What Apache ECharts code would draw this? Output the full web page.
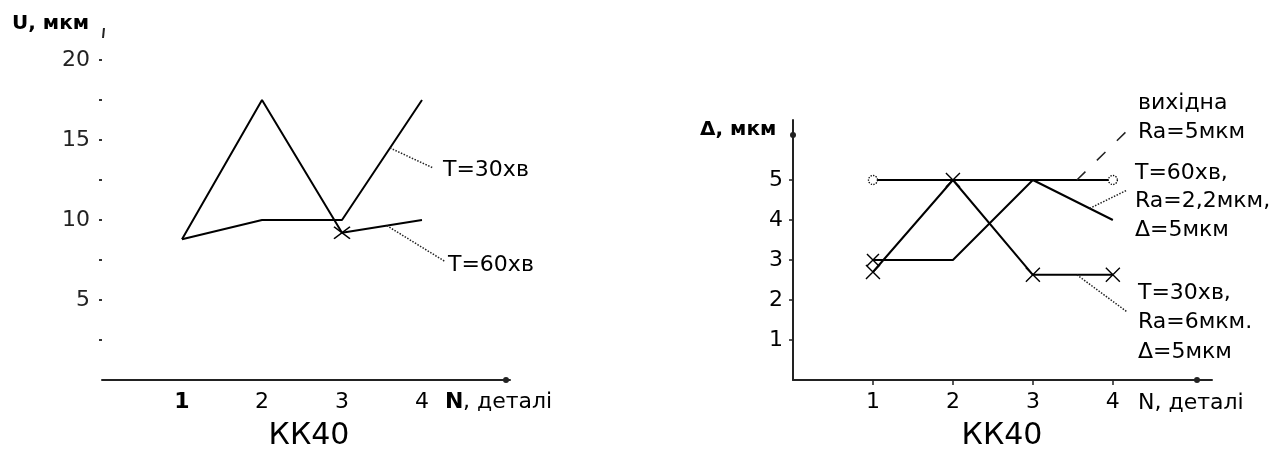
<!DOCTYPE html>
<html>
<head>
<meta charset="utf-8">
<script src="https://cdn.jsdelivr.net/npm/echarts@6/dist/echarts.min.js"></script>
<style>
html,body{margin:0;padding:0;background:#fff;}
#c{width:1284px;height:456px;}
</style>
</head>
<body>
<div id="c"></div>
<script>
// ---- data ----
const categories = ['1', '2', '3', '4'];
const catValues = [1, 2, 3, 4];
// left chart: U, мкм
const leftLineA = [8.8, 10, 10, 17.5];
const leftLineB = [8.8, 17.5, 9.2, 10];
const leftYTicks = [2.5, 5, 7.5, 10, 12.5, 15, 17.5, 20];
const leftYLabels = [5, 10, 15, 20];
// right chart: Δ, мкм
const rightBase = [5, 5, 5, 5];
const rightT60 = [3, 3, 5, 4];
const rightT30 = [2.7, 5, 2.63, 2.63];
const rightYLabels = [1, 2, 3, 4, 5];

const FONT = '"DejaVu Sans", Arial, sans-serif';
const INK = '#000';
const pts = arr => arr.map((v, i) => [catValues[i], v]);
const crossPath = 'path://M0,0L10,10M10,0L0,10';

function leader(a, b, type) {
  return {
    silent: true, symbol: ['none', 'none'], label: {show: false},
    lineStyle: {color: '#222', width: 1.5, type: type || 'dotted'},
    emphasis: {disabled: true},
    data: [[{coord: a}, {coord: b}]]
  };
}

const chart = echarts.init(document.getElementById('c'), null, {renderer: 'canvas'});
const txt = (text, x, y, size, opts) => ({
  type: 'text', x: x, y: y,
  style: Object.assign({text: text, font: size + 'px ' + FONT, fill: INK, align: 'left', verticalAlign: 'middle'}, (opts && opts.style) || {})
});

chart.setOption({
  backgroundColor: '#fff',
  animation: false,
  grid: [
    {left: 102, top: 60, width: 408, bottom: 76},
    {left: 793, top: 120, width: 419, bottom: 76}
  ],
  xAxis: [
    {
      gridIndex: 0, type: 'value', min: 0, max: 5.1, interval: 1,
      axisLine: {show: true, lineStyle: {color: '#222', width: 2}, symbol: ['none', 'circle'], symbolSize: [6, 6], symbolOffset: [0, -4]},
      axisTick: {show: false},
      splitLine: {show: false},
      axisLabel: {
        customValues: catValues, margin: 11, color: INK, fontFamily: FONT, fontSize: 22,
        formatter: v => v === 1 ? '{b|' + categories[0] + '}' : categories[v - 1],
        rich: {b: {fontWeight: 'bold', fontSize: 22, fontFamily: FONT, color: INK}}
      }
    },
    {
      gridIndex: 1, type: 'value', min: 0, max: 5.24, interval: 1,
      axisLine: {show: true, lineStyle: {color: '#222', width: 2}, symbol: ['none', 'circle'], symbolSize: [6, 6], symbolOffset: [0, -15]},
      axisTick: {show: true, customValues: catValues, length: 5, lineStyle: {color: '#222', width: 1.5}},
      splitLine: {show: false},
      axisLabel: {customValues: catValues, margin: 11, color: INK, fontFamily: FONT, fontSize: 22, formatter: v => categories[v - 1]}
    }
  ],
  yAxis: [
    {
      gridIndex: 0, type: 'value', min: 0, max: 20, interval: 2.5,
      axisLine: {show: false},
      axisTick: {show: true, customValues: leftYTicks, length: 3, lineStyle: {color: '#333', width: 2}},
      splitLine: {show: false},
      axisLabel: {customValues: leftYLabels, margin: 12, color: '#222', fontFamily: FONT, fontSize: 22}
    },
    {
      gridIndex: 1, type: 'value', min: 0, max: 6.5, interval: 1,
      axisLine: {show: true, lineStyle: {color: '#222', width: 2}, symbol: ['none', 'circle'], symbolSize: [6, 6], symbolOffset: [0, -15]},
      axisTick: {show: true, customValues: rightYLabels, length: 4, lineStyle: {color: '#222', width: 1.5}},
      splitLine: {show: false},
      axisLabel: {customValues: rightYLabels, margin: 10, color: INK, fontFamily: FONT, fontSize: 22}
    }
  ],
  series: [
    {
      type: 'line', name: 'T=30хв', xAxisIndex: 0, yAxisIndex: 0, data: pts(leftLineA),
      symbol: 'none', lineStyle: {color: INK, width: 2},
      markLine: leader([3.6, 14.5], [4.14, 13.25])
    },
    {
      type: 'line', name: 'T=60хв', xAxisIndex: 0, yAxisIndex: 0, data: pts(leftLineB),
      symbol: (v, p) => p.dataIndex === 2 ? crossPath : 'none', symbolSize: [16, 12],
      itemStyle: {color: 'none', borderColor: INK, borderWidth: 1.4},
      lineStyle: {color: INK, width: 2},
      markLine: leader([3.56, 9.65], [4.29, 7.4])
    },
    {
      type: 'line', name: 'вихідна Ra=5мкм', xAxisIndex: 1, yAxisIndex: 1, data: pts(rightBase),
      symbol: (v, p) => (p.dataIndex === 0 || p.dataIndex === 3) ? 'circle' : 'none', symbolSize: 9,
      itemStyle: {color: '#fff', borderColor: INK, borderWidth: 1.3, borderType: 'dotted'},
      lineStyle: {color: INK, width: 2},
      markLine: leader([3.55, 5], [4.28, 6.43], [12, 16])
    },
    {
      type: 'line', name: 'T=60хв, Ra=2,2мкм', xAxisIndex: 1, yAxisIndex: 1, data: pts(rightT60),
      symbol: (v, p) => p.dataIndex === 0 ? crossPath : 'none', symbolSize: [12, 12],
      itemStyle: {color: 'none', borderColor: INK, borderWidth: 1.4},
      lineStyle: {color: INK, width: 2},
      markLine: leader([3.71, 4.29], [4.18, 4.75])
    },
    {
      type: 'line', name: 'T=30хв, Ra=6мкм', xAxisIndex: 1, yAxisIndex: 1, data: pts(rightT30),
      symbol: crossPath, symbolSize: [14, 14],
      itemStyle: {color: 'none', borderColor: INK, borderWidth: 1.4},
      lineStyle: {color: INK, width: 2},
      markLine: leader([3.55, 2.63], [4.18, 1.7])
    }
  ],
  graphic: [
    txt('U, мкм', 12, 24, 20, {style: {font: 'bold 20px ' + FONT}}),
    {type: 'line', shape: {x1: 104, y1: 28, x2: 103, y2: 38}, style: {stroke: '#222', lineWidth: 2}},
    txt('T=30хв', 443, 170, 22),
    txt('T=60хв', 448, 265, 22),
    txt('N', 445, 402, 22, {style: {font: 'bold 22px ' + FONT}}),
    txt(', деталі', 463, 402, 22),
    txt('КК40', 309, 436, 30, {style: {align: 'center'}}),
    txt('Δ, мкм', 700, 130, 20, {style: {font: 'bold 20px ' + FONT}}),
    txt('вихідна', 1138, 103, 22),
    txt('Ra=5мкм', 1138, 132, 22),
    txt('T=60хв,', 1135, 173, 22),
    txt('Ra=2,2мкм,', 1135, 201, 22),
    txt('Δ=5мкм', 1135, 230, 22),
    txt('T=30хв,', 1138, 293, 22),
    txt('Ra=6мкм.', 1138, 322, 22),
    txt('Δ=5мкм', 1138, 352, 22),
    txt('N, деталі', 1138, 403, 22),
    txt('КК40', 1002, 436, 30, {style: {align: 'center'}})
  ]
});
</script>
</body>
</html>
